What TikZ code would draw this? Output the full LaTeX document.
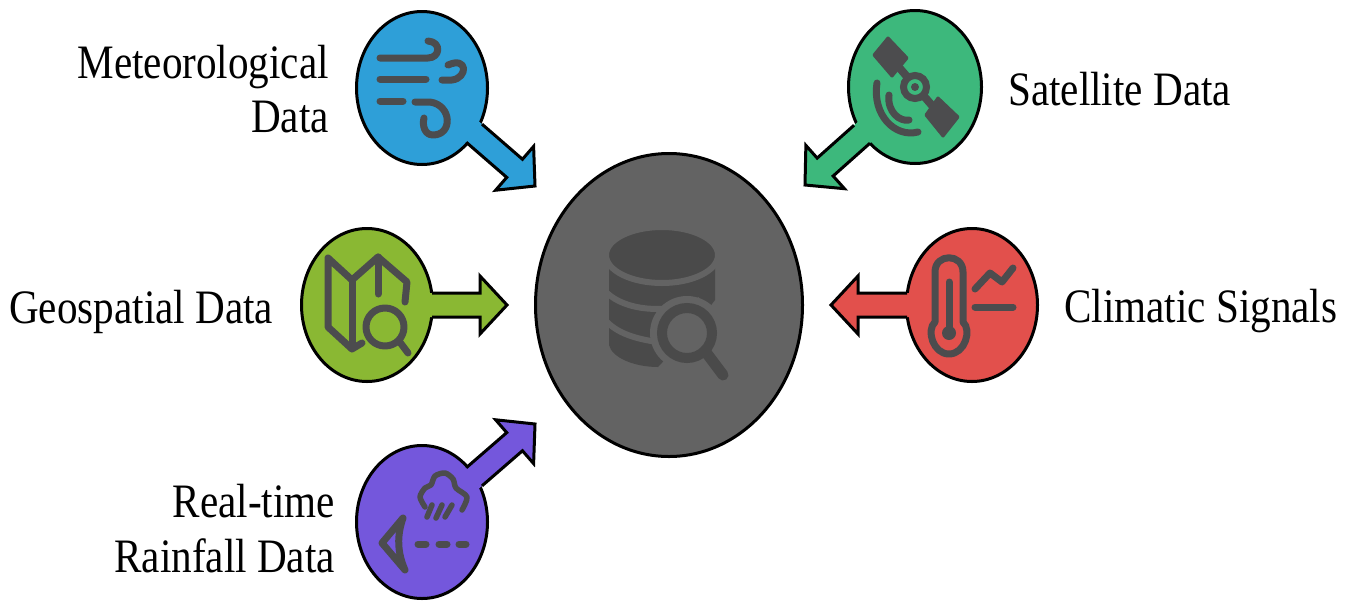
\documentclass[tikz,border=0pt]{standalone}
\usepackage{fontspec}
\setmainfont[FakeStretch=0.857]{Liberation Serif}
\usetikzlibrary{calc,shapes.geometric}
\definecolor{cmet}{HTML}{2E9FD8}
\definecolor{csat}{HTML}{3DB87C}
\definecolor{cgeo}{HTML}{8AB833}
\definecolor{ccli}{HTML}{E2504C}
\definecolor{crai}{HTML}{7457DC}
\definecolor{chub}{HTML}{636363}
\definecolor{cico}{HTML}{4C4C4E}
\definecolor{cdb}{HTML}{4A4A4A}
\tikzset{
  bubble/.style={ellipse,draw=black,line width=3pt,inner sep=0pt,outer sep=0pt,minimum width=131pt,minimum height=153pt},
  lab/.style={font=\fontsize{48}{54}\selectfont,inner sep=0pt,text=black},
  ico/.style={draw=cico,line width=7pt,line cap=round,line join=round},
  icothin/.style={ico,line width=5.5pt},
  edge/.style={draw=black,line width=3pt,line join=miter,miter limit=10}
}
\newcommand\blockarrow[4]{%
  \coordinate (hb) at ($(#2)!27pt!(#1)$);
  \coordinate (sa) at ($(#1)!#4!(#2)$);
  \coordinate (sb) at ($(#1)!#4-6pt!(#2)$);
  \fill[#3] (#2) -- ($(hb)!29pt!90:(#2)$) -- ($(hb)!12pt!90:(#2)$) -- ($(sb)!12pt!90:(#2)$)
     -- ($(sb)!12pt!-90:(#2)$) -- ($(hb)!12pt!-90:(#2)$) -- ($(hb)!29pt!-90:(#2)$) -- cycle;
  \path[edge] ($(sa)!12pt!90:(#2)$) -- ($(hb)!12pt!90:(#2)$) -- ($(hb)!29pt!90:(#2)$) -- (#2)
     -- ($(hb)!29pt!-90:(#2)$) -- ($(hb)!12pt!-90:(#2)$) -- ($(sa)!12pt!-90:(#2)$);
}
\begin{document}
\begin{tikzpicture}[x=1pt,y=-1pt]
\useasboundingbox (0,0) rectangle (1354,600);
\fill[white] (0,0) rectangle (1354,600);

% hub
\node[bubble,fill=chub,minimum width=267pt,minimum height=303pt] (hub) at (669,305) {};
\fill[cdb] (609,262) -- (609,345) .. controls (612,358) and (635,367) .. (658,367) -- (690,333) -- (715,300) -- (715,262) -- cycle;
\draw[chub,line width=6pt] (607,293) .. controls (625,310) and (665,315) .. (700,300);
\draw[chub,line width=6pt] (607,322) .. controls (620,335) and (640,340) .. (665,343);
\node[ellipse,fill=cdb,draw=chub,line width=6pt,inner sep=0pt,minimum width=112pt,minimum height=56pt] (dbtop) at (662,255) {};
\fill[chub] (687,333) circle (37);
\draw[cdb,line width=10pt] (687,333) circle (25);
\draw[cdb,line width=11pt,line cap=round] (705,351) -- (723,375);

% blue
\node[bubble,fill=cmet] (met) at (422,88) {};
\coordinate (metTip) at (535,186);
\blockarrow{met}{metTip}{cmet}{69pt}
\draw[ico] (380,58) -- (428,58) .. controls (440,58) and (442,42) .. (428,41);
\draw[ico] (380,79) -- (426,79);
\draw[ico] (442,80) -- (452,80) .. controls (468,78) and (468,56) .. (448,65);
\draw[ico] (380,101) -- (403,101);
\draw[ico] (415,102) -- (430,102) .. controls (452,105) and (453,135) .. (433,135) .. controls (425,135) and (422,126) .. (424,118);

% green
\node[bubble,fill=csat,minimum width=133pt] (sat) at (915,87) {};
\coordinate (satTip) at (805,185);
\blockarrow{sat}{satTip}{csat}{71pt}
\draw[cico,line width=8pt] (890,57) -- (942,117);
\filldraw[cico,line width=3pt,line join=round] (888,38) -- (907,58) -- (892,76) -- (874,55) -- cycle;
\filldraw[cico,line width=3pt,line join=round] (938,98) -- (958,117) -- (943,136) -- (926,115) -- cycle;
\draw[cico,fill=csat,line width=7pt] (915,87) circle (11.5);
\fill[cico] (915,87) circle (4);
\draw[ico] (877,83) .. controls (872,115) and (895,138) .. (918,132);
\draw[ico] (889,95) .. controls (887,112) and (900,122) .. (909,120);

% olive
\node[bubble,fill=cgeo] (geo) at (367,305) {};
\coordinate (geoTip) at (507,305);
\blockarrow{geo}{geoTip}{cgeo}{65pt}
\draw[ico] (362,343) -- (352,349) -- (328,327) -- (328,258) -- (352,280) -- (378,257) -- (407,282) -- (405,302);
\draw[ico] (352,280) -- (352,348);
\draw[ico] (378,257) -- (378,294);
\draw[ico] (385,327) circle (19);
\draw[ico] (399,341) -- (408,353);

% red
\node[bubble,fill=ccli] (cli) at (972,305) {};
\coordinate (cliTip) at (831,305);
\blockarrow{cli}{cliTip}{ccli}{65pt}
\draw[ico] (963,322) -- (963,272) .. controls (963,253) and (935,253) .. (935,272) -- (935,322)
  .. controls (926,330) and (933,354) .. (949,354) .. controls (965,354) and (972,330) .. (963,322);
\draw[ico] (949,282) -- (949,333);
\fill[cico] (949,333) circle (7);
\draw[ico] (975,289) -- (990,273) -- (1002,282) -- (1013,268);
\draw[ico] (975,307) -- (1013,307);

% purple
\node[bubble,fill=crai] (rai) at (422,522) {};
\coordinate (raiTip) at (535,424);
\blockarrow{rai}{raiTip}{crai}{69pt}
\draw[icothin] plot[smooth] coordinates {(425,507) (420,497) (425,488) (431,485) (435,476) (445,473) (453,479) (456,488) (467,497) (462,510)};
\draw[icothin] (432,505) -- (427,517);
\draw[icothin] (442,505) -- (436,518);
\draw[icothin] (452,505) -- (445,517);
\draw[ico] (403,518) -- (382,543) -- (405,570) .. controls (397,552) and (397,535) .. (403,518);
\draw[ico] (418,544) -- (426,544);
\draw[ico] (439,544) -- (447,544);
\draw[ico] (459,544) -- (466,544);

% labels
\node[lab,anchor=base east] (tmeta) at (329,78) {Meteorological};
\node[lab,anchor=base east] (tmetb) at (329,132) {Data};
\node[lab,anchor=base west] (tsat) at (1008,105) {Satellite Data};
\node[lab,anchor=base west] (tgeo) at (9,323) {Geospatial Data};
\node[lab,anchor=base west] (tcli) at (1064,322) {Climatic Signals};
\node[lab,anchor=base east] (traia) at (335,517) {Real-time};
\node[lab,anchor=base east] (traib) at (335,572) {Rainfall Data};
\end{tikzpicture}
\end{document}
